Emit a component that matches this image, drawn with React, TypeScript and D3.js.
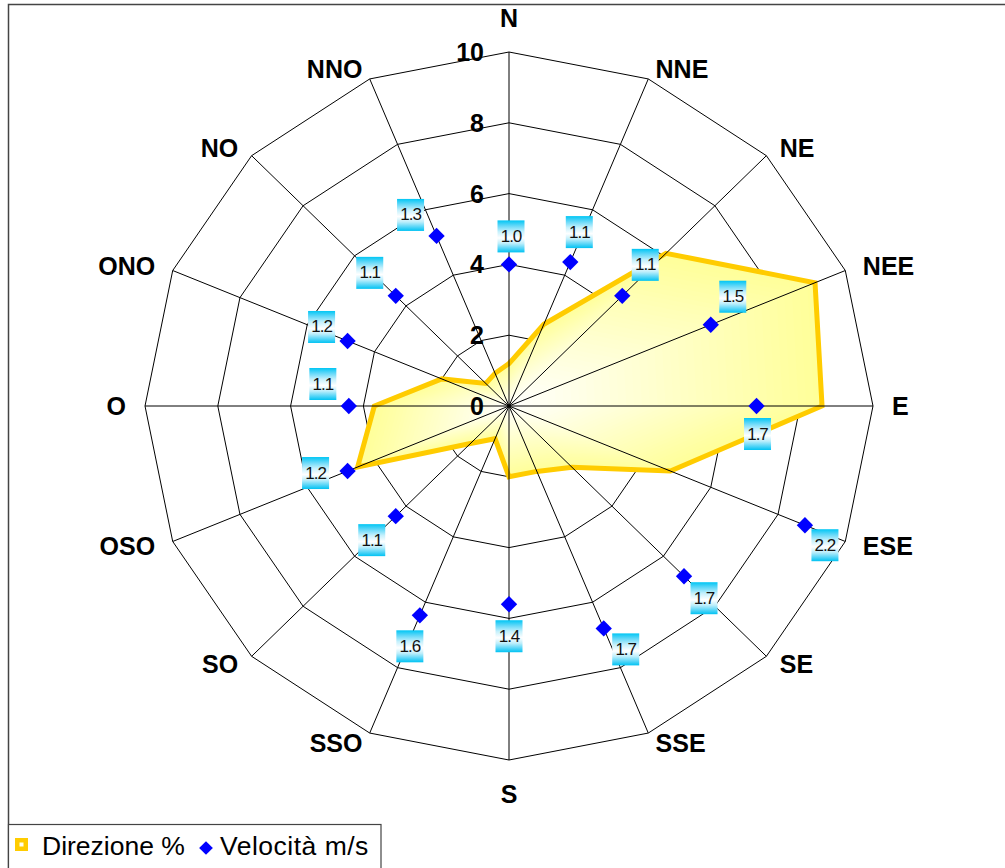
import * as d3 from "d3";

// wind rose: frequency (%) per direction and mean speed (m/s)
const directions = ["N", "NNE", "NE", "NEE", "E", "ESE", "SE", "SSE", "S", "SSO", "SO", "OSO", "O", "ONO", "NO", "NNO"];
const direzione = [1.2, 2.5, 6.1, 9.1, 8.6, 4.8, 2.45, 2.0, 2.0, 1.0, 1.5, 4.5, 3.7, 2.0, 0.9, 1.0];
const velocita = [1.0, 1.1, 1.1, 1.5, 1.7, 2.2, 1.7, 1.7, 1.4, 1.6, 1.1, 1.2, 1.1, 1.2, 1.1, 1.3];
const ticks = [0, 2, 4, 6, 8, 10];
const seriesNames = ["Direzione %", "Velocità m/s"];

// label nudges (px) for the speed labels, relative to the diamond
const labelNudge = [
  [2, -28], [9, -30], [23, -31], [22, -28], [1, 28], [20, 20], [20, 22], [22, 21],
  [0, 32], [-10, 31], [-24, 24], [-32, 2], [-26, -22], [-26, -14], [-26, -23], [-26, -21],
];

const W = 1005;
const H = 868;
const cx = 509;
const cy = 406;
const FONT = "'Liberation Sans', Arial, Helvetica, sans-serif";

const rx = d3.scaleLinear().domain([0, 10]).range([0, 364]);
const ry = d3.scaleLinear().domain([0, 10]).range([0, 354]);
const angle = d3.scaleLinear().domain([0, directions.length]).range([0, 2 * Math.PI]);
// secondary axis for speed (0 - 2.5 m/s on the same rings)
const speed = d3.scaleLinear().domain([0, 2.5]).range([0, 10]);

const pt = (i: number, v: number): [number, number] => {
  const a = angle(i);
  return [cx + rx(v) * Math.sin(a), cy - ry(v) * Math.cos(a)];
};

const closed = d3.line().curve(d3.curveLinearClosed);

export default function App() {
  const ring = (t: number) => closed(directions.map((_, i) => pt(i, t))) as string;
  const area = closed(direzione.map((v, i) => pt(i, v))) as string;

  // path gradient (white centre -> yellow edge) made of nested scaled copies
  const layers = d3.range(40, 0, -1).map((n) => n / 40);
  const fillColor = d3.interpolateRgb("#FFFFFF", "#FFFF99");

  const diamond = d3.symbol().type(d3.symbolDiamond2).size(170)() as string;
  const legendDiamond = d3.symbol().type(d3.symbolDiamond2).size(120)() as string;

  return (
    <svg
      width={W}
      height={H}
      style={{ position: "absolute", left: 0, top: 0, background: "#fff" }}
      fontFamily={FONT}
    >
      <defs>
        <linearGradient id="lblGrad" x1="0" y1="0" x2="0" y2="1">
          <stop offset="0" stopColor="#00C6F4" />
          <stop offset="0.15" stopColor="#5AD6F8" />
          <stop offset="0.35" stopColor="#C4F0FC" />
          <stop offset="0.55" stopColor="#FFFFFF" />
          <stop offset="0.72" stopColor="#BDEEFB" />
          <stop offset="0.88" stopColor="#52D4F7" />
          <stop offset="1" stopColor="#00C2F2" />
        </linearGradient>
      </defs>

      {/* chart frame */}
      <rect x={8.5} y={4.5} width={1200} height={1000} fill="#fff" stroke="#444" strokeWidth={1.5} />

      {/* rings */}
      <g fill="none" stroke="#000" strokeWidth={1}>
        {ticks.filter((t) => t > 0).map((t) => (
          <path key={t} d={ring(t)} />
        ))}
      </g>

      {/* direzione area */}
      <g>
        {layers.map((k) => (
          <path
            key={k}
            d={area}
            fill={fillColor(k)}
            transform={`translate(${cx},${cy}) scale(${k}) translate(${-cx},${-cy})`}
          />
        ))}
        <path d={area} fill="none" stroke="#FFCC00" strokeWidth={5} strokeLinejoin="miter" />
      </g>

      {/* spokes */}
      <g stroke="#000" strokeWidth={1}>
        {directions.map((d, i) => {
          const [x, y] = pt(i, 10);
          return <line key={d} x1={cx} y1={cy} x2={x} y2={y} />;
        })}
      </g>

      {/* tick labels */}
      <g fontSize={25} fontWeight="bold" textAnchor="end">
        {ticks.map((t) => (
          <text key={t} x={cx - 25} y={cy - ry(t)} dominantBaseline="central">
            {t}
          </text>
        ))}
      </g>

      {/* category labels */}
      <g fontSize={25} fontWeight="bold">
        {directions.map((d, i) => {
          const a = angle(i);
          const s = Math.sin(a);
          const c = Math.cos(a);
          if (Math.abs(s) < 1e-6) {
            return (
              <text key={d} x={cx} y={cy - Math.sign(c) * 388} textAnchor="middle" dominantBaseline="central">
                {d}
              </text>
            );
          }
          return (
            <text
              key={d}
              x={cx + 383 * s}
              y={cy - 365 * c}
              textAnchor={s > 0 ? "start" : "end"}
              dominantBaseline="central"
            >
              {d}
            </text>
          );
        })}
      </g>

      {/* velocità */}
      <g>
        {velocita.map((v, i) => {
          const [x, y] = pt(i, speed(v));
          return <path key={i} d={diamond} transform={`translate(${x},${y})`} fill="#0000FF" />;
        })}
      </g>
      <g fontSize={17} textAnchor="middle">
        {velocita.map((v, i) => {
          const [x, y] = pt(i, speed(v));
          const lx = x + labelNudge[i][0];
          const ly = y + labelNudge[i][1];
          return (
            <g key={i}>
              <rect x={lx - 13.5} y={ly - 16} width={27} height={32} fill="url(#lblGrad)" />
              <text x={lx} y={ly} dominantBaseline="central" letterSpacing={-1} fill="#111">
                {d3.format(".1f")(v)}
              </text>
            </g>
          );
        })}
      </g>

      {/* legend */}
      <g>
        <rect x={8.5} y={824.5} width={372.5} height={80} fill="#fff" stroke="#444" strokeWidth={1.2} />
        <rect x={15} y={838} width={13} height={13} fill="#FFCC00" />
        <rect x={19.5} y={842.5} width={4} height={4} fill="#FFFFF0" />
        <text x={42} y={855} fontSize={26.5}>
          {seriesNames[0]}
        </text>
        <path d={legendDiamond} transform="translate(206,848)" fill="#0000FF" />
        <text x={220} y={855} fontSize={26.5} letterSpacing={0.5}>
          {seriesNames[1]}
        </text>
      </g>
    </svg>
  );
}
